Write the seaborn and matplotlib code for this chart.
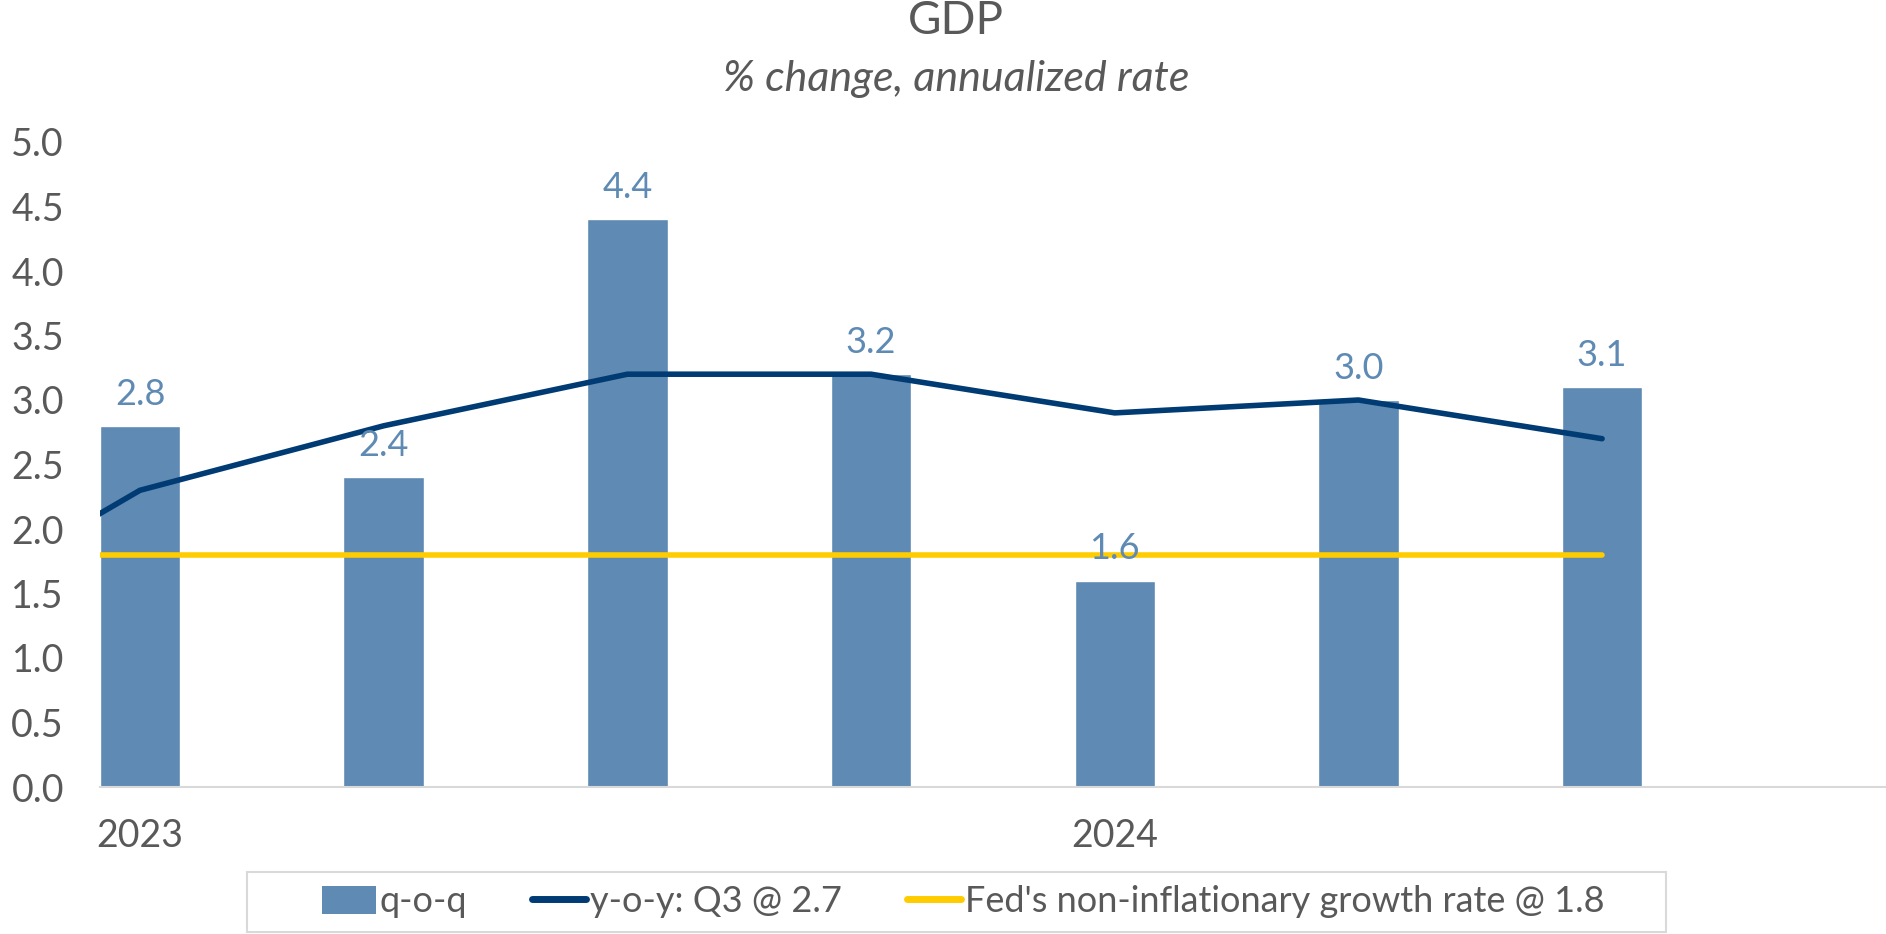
import matplotlib
matplotlib.use('Agg')
import matplotlib.pyplot as plt
import seaborn as sns
from matplotlib.lines import Line2D
from matplotlib.patches import Patch, Rectangle

# Dados trimestrais (2023 Q1 .. 2024 Q3)
trimestres = ['2023 Q1', '2023 Q2', '2023 Q3', '2023 Q4', '2024 Q1', '2024 Q2', '2024 Q3']
qoq = [2.8, 2.4, 4.4, 3.2, 1.6, 3.0, 3.1]

# Série anual começa um trimestre antes (2022 Q4), fica cortada na borda do eixo
trimestres_linha = ['2022 Q4'] + trimestres
yoy = [1.2, 2.3, 2.8, 3.2, 3.2, 2.9, 3.0, 2.7]
fed = [1.8, 1.8, 1.8, 1.8, 1.8, 1.8, 1.8, 1.8]

rotulos_x = {'2023 Q1': '2023', '2024 Q1': '2024'}

COR_BARRA = '#5E8AB4'
COR_LINHA = '#003B73'
COR_FED = '#FFCC00'
COR_TEXTO = '#595959'

sns.set_theme(style='white')
plt.rcParams['font.family'] = ['Lato', 'DejaVu Sans']

W, H = 1886, 934
fig = plt.figure(figsize=(W / 100, H / 100), dpi=100)
ax = fig.add_axes([100 / W, 147 / H, 1 - 100 / W, 645 / H])

sns.barplot(x=trimestres, y=qoq, color=COR_BARRA, width=0.33, saturation=1, ax=ax)

pos_linha = [i - 1 for i in range(len(trimestres_linha))]
sns.lineplot(x=pos_linha, y=yoy, color=COR_LINHA, linewidth=4, ax=ax)
sns.lineplot(x=pos_linha, y=fed, color=COR_FED, linewidth=4, ax=ax)
for ln in ax.lines:
    ln.set_solid_capstyle('round')
    ln.set_solid_joinstyle('round')

# rótulos das barras
for i, v in enumerate(qoq):
    ax.annotate(f'{v:.1f}', (i, v), xytext=(0, 11), textcoords='offset points',
                ha='center', va='bottom', fontsize=26, color=COR_BARRA)

ax.set_xlim(-0.164, 7.165)
ax.set_ylim(0, 5.0)
ax.set_yticks([i * 0.5 for i in range(11)])
ax.set_yticklabels([f'{i * 0.5:.1f}' for i in range(11)])
ticks = [trimestres.index(k) for k in rotulos_x]
ax.set_xticks(ticks)
ax.set_xticklabels(list(rotulos_x.values()))
ax.tick_params(axis='both', labelsize=27, colors=COR_TEXTO, length=0)
ax.tick_params(axis='x', pad=22)
ax.tick_params(axis='y', pad=26)
ax.set_xlabel('')
ax.set_ylabel('')

for s in ['top', 'right', 'left']:
    ax.spines[s].set_visible(False)
ax.spines['bottom'].set_color('#D9D9D9')
ax.spines['bottom'].set_linewidth(1.5)

fig.text(956 / W, 1 - 21 / H, 'GDP', ha='center', va='center', fontsize=33, color=COR_TEXTO)
fig.text(956 / W, 1 - 79 / H, '% change, annualized rate', ha='center', va='center',
         fontsize=31, color=COR_TEXTO, style='italic')

# legenda: caixa desenhada à parte, mais larga que o conteúdo (estilo Excel)
fig.patches.append(Rectangle((247 / W, 2 / H), 1419 / W, 60 / H, transform=fig.transFigure,
                             facecolor='white', edgecolor='#D9D9D9', linewidth=1.5, zorder=0))
handles = [Patch(facecolor=COR_BARRA, edgecolor='none'),
           Line2D([], [], color=COR_LINHA, linewidth=5, solid_capstyle='round'),
           Line2D([], [], color=COR_FED, linewidth=5, solid_capstyle='round')]
labels = ['q-o-q', 'y-o-y: Q3 @ 2.7', "Fed's non-inflationary growth rate @ 1.8"]
leg = fig.legend(handles, labels, loc='center', bbox_to_anchor=(963 / W, 32 / H), ncol=3,
                 fontsize=26, frameon=False, handlelength=1.5, handleheight=0.85,
                 handletextpad=0.1, columnspacing=1.8, labelcolor=COR_TEXTO)

fig.savefig('out.png', dpi=100)
